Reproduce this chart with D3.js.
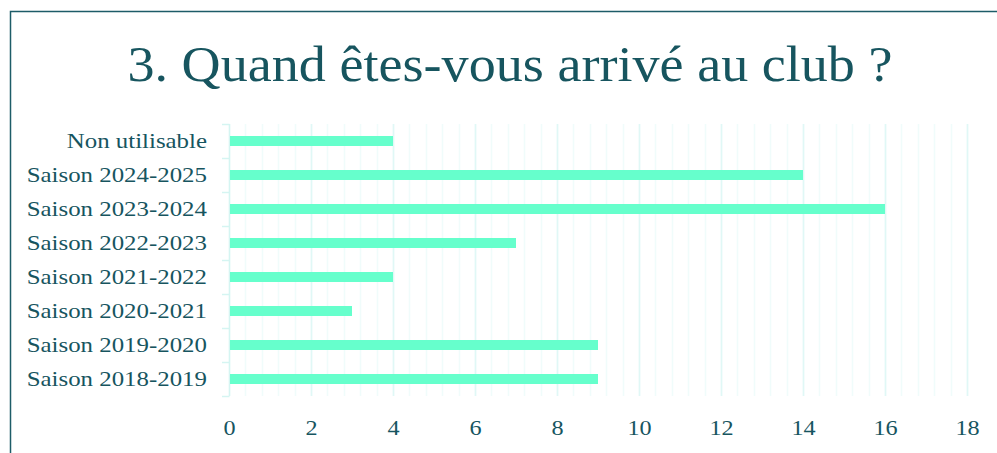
<!DOCTYPE html>
<html lang="fr">
<head>
    <meta charset="utf-8">
    <title>Quand êtes-vous arrivé au club ?</title>
    <script type="text/javascript" src="https://cdn.jsdelivr.net/npm/d3@7"></script>
    <style>
        body { margin: 0; background: #fff; }
        svg text { font-family: "Liberation Serif", "DejaVu Serif", serif; fill: #17555f; }
    </style>
</head>
<body>
<script type="text/javascript">
    // data, top to bottom as in the chart
    var categories = ["Non utilisable", "Saison 2024-2025", "Saison 2023-2024", "Saison 2022-2023",
                      "Saison 2021-2022", "Saison 2020-2021", "Saison 2019-2020", "Saison 2018-2019"];
    var values = [4, 14, 16, 7, 4, 3, 9, 9];
    var xTicks = [0, 2, 4, 6, 8, 10, 12, 14, 16, 18];
    var title = "3. Quand êtes-vous arrivé au club ?";

    var w = 997;
    var h = 453;
    var textColor = "#17555f";

    var svg = d3.select("body")
        .append("svg")
        .attr("width", w)
        .attr("height", h);

    // widen Times-like glyphs to roughly Cambria widths
    function stretch(sel, k) {
        sel.each(function () {
            var len = this.getComputedTextLength();
            d3.select(this)
                .attr("textLength", len * k)
                .attr("lengthAdjust", "spacingAndGlyphs");
        });
    }

    // frame (runs off the right and bottom edges)
    svg.append("rect")
        .attr("x", 10.5)
        .attr("y", 11.5)
        .attr("width", w)
        .attr("height", h)
        .attr("fill", "none")
        .attr("stroke", "#1d5c68")
        .attr("stroke-width", 1.5);

    svg.append("text")
        .attr("x", 510)
        .attr("y", 81)
        .attr("text-anchor", "middle")
        .attr("font-size", "50px")
        .attr("textLength", 765)
        .attr("lengthAdjust", "spacingAndGlyphs")
        .text(title);

    var x = d3.scaleLinear()
        .domain([0, 18])
        .range([229, 967]);

    var y = d3.scaleBand()
        .domain(categories)
        .range([124, 396])
        .padding(0);

    // minor gridlines every 0.4, major every 2
    var minor = d3.range(0, 18.01, 0.4);
    svg.selectAll("line.minor")
        .data(minor)
        .enter()
        .append("line")
        .attr("class", "minor")
        .attr("x1", d => Math.round(x(d)) + 0.5)
        .attr("x2", d => Math.round(x(d)) + 0.5)
        .attr("y1", 124)
        .attr("y2", 396)
        .attr("stroke", "#f0fcfb")
        .attr("stroke-width", 1.5);

    svg.selectAll("line.major")
        .data(xTicks.slice(1))
        .enter()
        .append("line")
        .attr("class", "major")
        .attr("x1", d => Math.round(x(d)) + 0.5)
        .attr("x2", d => Math.round(x(d)) + 0.5)
        .attr("y1", 124)
        .attr("y2", 396)
        .attr("stroke", "#e0f8f6")
        .attr("stroke-width", 1.5);

    // y axis line with outward ticks at category boundaries
    svg.append("line")
        .attr("x1", 229.5).attr("x2", 229.5)
        .attr("y1", 124).attr("y2", 396)
        .attr("stroke", "#d5f5f2")
        .attr("stroke-width", 1.5);
    var bounds = categories.map(c => y(c)).concat([396]);
    svg.selectAll("line.ytick")
        .data(bounds)
        .enter()
        .append("line")
        .attr("class", "ytick")
        .attr("x1", 222).attr("x2", 229.5)
        .attr("y1", d => d + 0.5).attr("y2", d => d + 0.5)
        .attr("stroke", "#d5f5f2")
        .attr("stroke-width", 1.5);

    // category labels
    var cats = svg.selectAll("text.cat")
        .data(categories)
        .enter()
        .append("text")
        .attr("class", "cat")
        .attr("x", 207)
        .attr("y", d => y(d) + y.bandwidth() / 2 + 7)
        .attr("text-anchor", "end")
        .attr("font-size", "22px")
        .text(d => d);
    stretch(cats, 1.13);

    // bars
    var barH = 10;
    svg.selectAll("rect.bar")
        .data(values)
        .enter()
        .append("rect")
        .attr("class", "bar")
        .attr("x", x(0) + 1)
        .attr("y", (d, i) => y(categories[i]) + y.bandwidth() / 2 - barH / 2)
        .attr("width", d => x(d) - x(0) - 1)
        .attr("height", barH)
        .attr("fill", "#66ffcc");

    // x tick labels
    var xAxis = d3.axisBottom(x).tickValues(xTicks).tickSize(0).tickPadding(0);
    var gx = svg.append("g")
        .attr("transform", "translate(0,419)")
        .call(xAxis);
    gx.select(".domain").remove();
    gx.selectAll("text")
        .attr("font-family", "Liberation Serif, DejaVu Serif, serif")
        .attr("font-size", "22px")
        .attr("fill", textColor);
    stretch(gx.selectAll("text"), 1.1);
</script>
</body>
</html>
